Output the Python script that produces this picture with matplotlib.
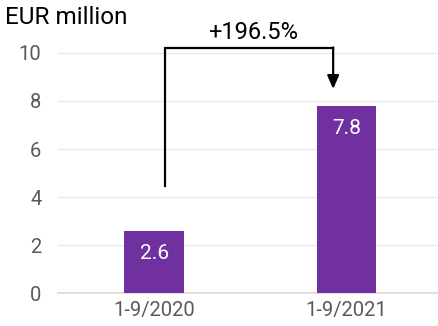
import matplotlib
matplotlib.use('Agg')
import matplotlib.pyplot as plt

# Chart data
periods = ['1-9/2020', '1-9/2021']
values = [2.6, 7.8]
value_labels = ['2.6', '7.8']
growth_label = '+196.5%'
y_ticks = [0, 2, 4, 6, 8, 10]

plt.rcParams['font.family'] = ['Roboto', 'DejaVu Sans']

fig = plt.figure(figsize=(4.39, 3.26), dpi=100)
ax = fig.add_axes([0.132, 0.101, 0.868, 0.847])

x = list(range(len(periods)))
ax.bar(x, values, width=0.31, color='#7030A0', zorder=3)

for xi, v, lab in zip(x, values, value_labels):
    ax.text(xi, v - 0.95, lab, ha='center', va='center', color='white',
            fontsize=15, zorder=4)

ax.set_xlim(-0.5, 1.48)
ax.set_ylim(0, 11.5)
ax.set_yticks(y_ticks)
ax.set_xticks(x)
ax.set_xticklabels(periods)
ax.tick_params(axis='both', length=0, labelsize=14.5, colors='#595959')
ax.tick_params(axis='x', pad=6)
ax.tick_params(axis='y', pad=12)

ax.grid(axis='y', color='#ebebeb', linewidth=1, zorder=0)
for side in ['top', 'right', 'left']:
    ax.spines[side].set_visible(False)
ax.spines['bottom'].set_color('#d9d9d9')
ax.spines['bottom'].set_linewidth(1.2)

# growth bracket arrow
x0 = x[0] + 0.057
x1 = x[1] - 0.07
ytop = 10.2
ax.plot([x0, x0, x1], [4.45, ytop, ytop], color='black', linewidth=1.6,
        solid_joinstyle='miter', zorder=5, clip_on=False)
ax.annotate('', xy=(x1, 8.5), xytext=(x1, ytop + 0.03),
            arrowprops=dict(arrowstyle='-|>,head_width=0.35,head_length=0.8',
                            color='black', lw=1.6, shrinkA=0, shrinkB=0),
            zorder=5)
ax.text((x0 + x1) / 2 + 0.02, 10.85, growth_label, ha='center', va='center',
        fontsize=17, color='black')

fig.text(0.012, 0.945, 'EUR million', ha='left', va='center', fontsize=17.5,
         color='black')

fig.savefig('out.png', dpi=100)
